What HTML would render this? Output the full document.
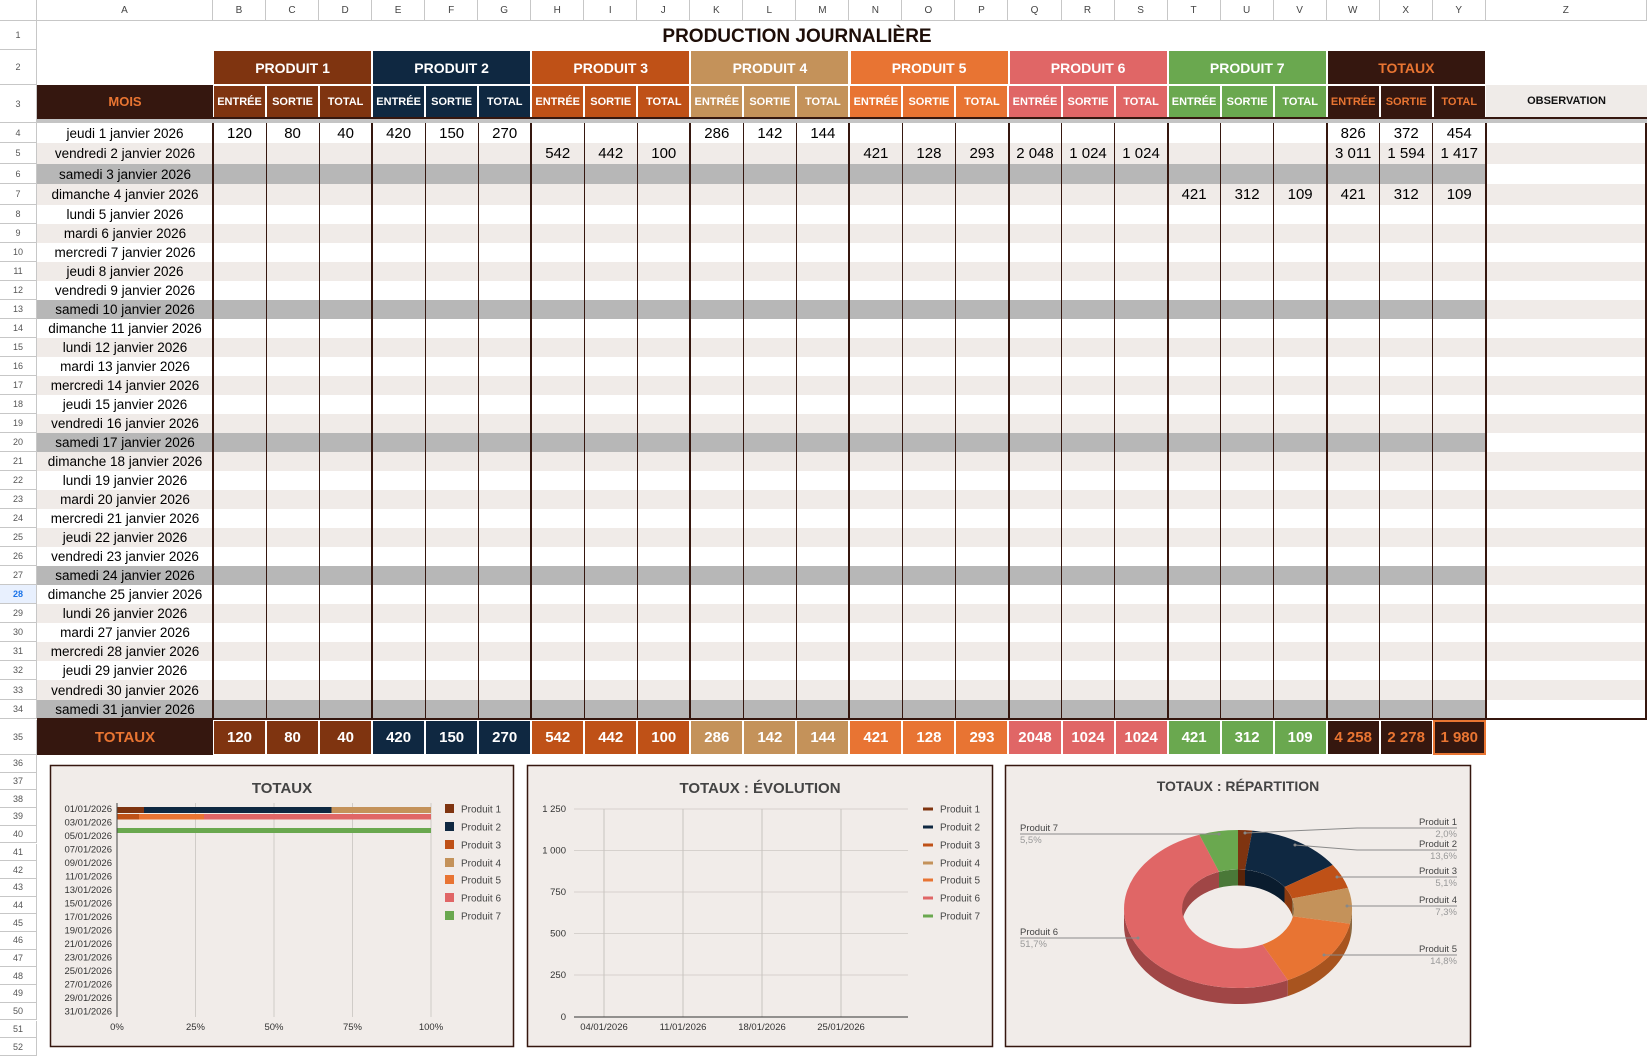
<!DOCTYPE html>
<html><head><meta charset="utf-8">
<style>
*{margin:0;padding:0;box-sizing:border-box}
body{width:1652px;height:1055px;background:#fff;position:relative;overflow:hidden;font-family:"Liberation Sans",Arial,sans-serif;color:#000}
.ab{position:absolute}
.ch{position:absolute;top:0;height:21px;border-right:1px solid #c7c7c7;border-bottom:1px solid #c7c7c7;font-size:10px;color:#444;text-align:center;line-height:21px;background:#fff}
.row{position:absolute;left:0;width:1647px;display:flex}
.row>.n{width:37px;flex:none;border-right:1px solid #c7c7c7;border-bottom:1px solid #c7c7c7;font-size:9px;color:#555;text-align:center;display:flex;align-items:center;justify-content:center;background:#fff}
.row>.a{width:176px;flex:none;text-align:center;font-size:13.5px;display:flex;align-items:center;justify-content:center}
.row>.c{width:1273px;flex:none;display:flex}
.row>.c span{width:53.04px;flex:none;text-align:center;font-size:15px;display:flex;align-items:center;justify-content:center}
.row>.z{width:161px;flex:none}
.w>.a,.w>.c{background:#fff}
.l>.a,.l>.c{background:#f0ebe8}
.g>.a,.g>.c{background:#b7b7b7}
.zl{background:#f0ebe8}
.v{position:absolute;top:123px;height:596px;width:1px;background:#35170f}
.vt{width:2px}
.grp{position:absolute;top:50px;height:35px;display:flex;align-items:center;justify-content:center;color:#fff;font-weight:bold;font-size:14px;border:1px solid #fff}
.hr{position:absolute;left:213px;display:flex}
.hr div{width:53.04px;flex:none;border:1px solid #fff;display:flex;align-items:center;justify-content:center;color:#fff;font-weight:bold}
.p1{background:#7f3410}.p2{background:#0f2841}.p3{background:#bf5117}.p4{background:#c4925a}.p5{background:#e87433}.p6{background:#e06666}.p7{background:#6aa84f}.pt{background:#35170f;color:#e97532 !important}
.rn{position:absolute;left:0;width:37px;border-right:1px solid #c7c7c7;border-bottom:1px solid #c7c7c7;font-size:9px;color:#555;text-align:center;display:flex;align-items:center;justify-content:center}
</style></head><body>

<div class="ch" style="left:0;width:37px"></div>
<div class="ch" style="left:37px;width:176px">A</div>
<div class="ab" style="left:213px;top:0;display:flex">
<div class="ch" style="position:static;width:53.04px">B</div><div class="ch" style="position:static;width:53.04px">C</div><div class="ch" style="position:static;width:53.04px">D</div><div class="ch" style="position:static;width:53.04px">E</div><div class="ch" style="position:static;width:53.04px">F</div><div class="ch" style="position:static;width:53.04px">G</div><div class="ch" style="position:static;width:53.04px">H</div><div class="ch" style="position:static;width:53.04px">I</div><div class="ch" style="position:static;width:53.04px">J</div><div class="ch" style="position:static;width:53.04px">K</div><div class="ch" style="position:static;width:53.04px">L</div><div class="ch" style="position:static;width:53.04px">M</div><div class="ch" style="position:static;width:53.04px">N</div><div class="ch" style="position:static;width:53.04px">O</div><div class="ch" style="position:static;width:53.04px">P</div><div class="ch" style="position:static;width:53.04px">Q</div><div class="ch" style="position:static;width:53.04px">R</div><div class="ch" style="position:static;width:53.04px">S</div><div class="ch" style="position:static;width:53.04px">T</div><div class="ch" style="position:static;width:53.04px">U</div><div class="ch" style="position:static;width:53.04px">V</div><div class="ch" style="position:static;width:53.04px">W</div><div class="ch" style="position:static;width:53.04px">X</div><div class="ch" style="position:static;width:53.04px">Y</div><div class="ch" style="position:static;width:161px">Z</div>
</div>

<div class="rn" style="top:21px;height:29px">1</div>
<div class="rn" style="top:50px;height:35px">2</div>
<div class="rn" style="top:85px;height:38px">3</div>

<div class="ab" style="left:37px;top:22px;width:1610px;height:29px;font-size:19px;font-weight:bold;line-height:29px;color:#1e0e08">
<span style="position:absolute;left:760px;transform:translateX(-50%);white-space:nowrap">PRODUCTION JOURNALIÈRE</span></div>

<div class="grp p1" style="left:213px;width:159.1px">PRODUIT 1</div>
<div class="grp p2" style="left:372.1px;width:159.1px">PRODUIT 2</div>
<div class="grp p3" style="left:531.2px;width:159.1px">PRODUIT 3</div>
<div class="grp p4" style="left:690.4px;width:159.1px">PRODUIT 4</div>
<div class="grp p5" style="left:849.5px;width:159.1px">PRODUIT 5</div>
<div class="grp p6" style="left:1008.6px;width:159.1px">PRODUIT 6</div>
<div class="grp p7" style="left:1167.7px;width:159.1px">PRODUIT 7</div>
<div class="grp pt" style="left:1326.8px;width:159.1px">TOTAUX</div>

<div class="ab pt" style="left:37px;top:85px;width:176px;height:33px;display:flex;align-items:center;justify-content:center;font-weight:bold;font-size:13px">MOIS</div>
<div class="hr" style="top:85px;height:33px;font-size:11px">
<div class="p1">ENTRÉE</div><div class="p1">SORTIE</div><div class="p1">TOTAL</div>
<div class="p2">ENTRÉE</div><div class="p2">SORTIE</div><div class="p2">TOTAL</div>
<div class="p3">ENTRÉE</div><div class="p3">SORTIE</div><div class="p3">TOTAL</div>
<div class="p4">ENTRÉE</div><div class="p4">SORTIE</div><div class="p4">TOTAL</div>
<div class="p5">ENTRÉE</div><div class="p5">SORTIE</div><div class="p5">TOTAL</div>
<div class="p6">ENTRÉE</div><div class="p6">SORTIE</div><div class="p6">TOTAL</div>
<div class="p7">ENTRÉE</div><div class="p7">SORTIE</div><div class="p7">TOTAL</div>
<div class="pt">ENTRÉE</div><div class="pt">SORTIE</div><div class="pt">TOTAL</div>
</div>
<div class="ab" style="left:1486px;top:85px;width:161px;height:32px;background:#efebe8;display:flex;align-items:center;justify-content:center;font-weight:bold;font-size:11px;color:#111">OBSERVATION</div>
<div class="ab" style="left:37px;top:117px;width:1610px;height:2px;background:#35170f"></div>
<div class="ab" style="left:37px;top:119px;width:1610px;height:4px;background:#c4c4c4"></div>

<div class="row w" style="top:123px;height:20px"><div class="n">4</div><div class="a">jeudi 1 janvier 2026</div><div class="c"><span>120</span><span>80</span><span>40</span><span>420</span><span>150</span><span>270</span><span></span><span></span><span></span><span>286</span><span>142</span><span>144</span><span></span><span></span><span></span><span></span><span></span><span></span><span></span><span></span><span></span><span>826</span><span>372</span><span>454</span></div><div class="z"></div></div>
<div class="row l" style="top:143px;height:21px"><div class="n">5</div><div class="a">vendredi 2 janvier 2026</div><div class="c"><span></span><span></span><span></span><span></span><span></span><span></span><span>542</span><span>442</span><span>100</span><span></span><span></span><span></span><span>421</span><span>128</span><span>293</span><span>2 048</span><span>1 024</span><span>1 024</span><span></span><span></span><span></span><span>3 011</span><span>1 594</span><span>1 417</span></div><div class="z zl"></div></div>
<div class="row g" style="top:164px;height:20px"><div class="n">6</div><div class="a">samedi 3 janvier 2026</div><div class="c"></div><div class="z"></div></div>
<div class="row l" style="top:184px;height:21px"><div class="n">7</div><div class="a">dimanche 4 janvier 2026</div><div class="c"><span></span><span></span><span></span><span></span><span></span><span></span><span></span><span></span><span></span><span></span><span></span><span></span><span></span><span></span><span></span><span></span><span></span><span></span><span>421</span><span>312</span><span>109</span><span>421</span><span>312</span><span>109</span></div><div class="z zl"></div></div>
<div class="row w" style="top:205px;height:19px"><div class="n">8</div><div class="a">lundi 5 janvier 2026</div><div class="c"></div><div class="z"></div></div>
<div class="row l" style="top:224px;height:19px"><div class="n">9</div><div class="a">mardi 6 janvier 2026</div><div class="c"></div><div class="z zl"></div></div>
<div class="row w" style="top:243px;height:19px"><div class="n">10</div><div class="a">mercredi 7 janvier 2026</div><div class="c"></div><div class="z"></div></div>
<div class="row l" style="top:262px;height:19px"><div class="n">11</div><div class="a">jeudi 8 janvier 2026</div><div class="c"></div><div class="z zl"></div></div>
<div class="row w" style="top:281px;height:19px"><div class="n">12</div><div class="a">vendredi 9 janvier 2026</div><div class="c"></div><div class="z"></div></div>
<div class="row g" style="top:300px;height:19px"><div class="n">13</div><div class="a">samedi 10 janvier 2026</div><div class="c"></div><div class="z zl"></div></div>
<div class="row w" style="top:319px;height:19px"><div class="n">14</div><div class="a">dimanche 11 janvier 2026</div><div class="c"></div><div class="z"></div></div>
<div class="row l" style="top:338px;height:19px"><div class="n">15</div><div class="a">lundi 12 janvier 2026</div><div class="c"></div><div class="z zl"></div></div>
<div class="row w" style="top:357px;height:19px"><div class="n">16</div><div class="a">mardi 13 janvier 2026</div><div class="c"></div><div class="z"></div></div>
<div class="row l" style="top:376px;height:19px"><div class="n">17</div><div class="a">mercredi 14 janvier 2026</div><div class="c"></div><div class="z zl"></div></div>
<div class="row w" style="top:395px;height:19px"><div class="n">18</div><div class="a">jeudi 15 janvier 2026</div><div class="c"></div><div class="z"></div></div>
<div class="row l" style="top:414px;height:19px"><div class="n">19</div><div class="a">vendredi 16 janvier 2026</div><div class="c"></div><div class="z zl"></div></div>
<div class="row g" style="top:433px;height:19px"><div class="n">20</div><div class="a">samedi 17 janvier 2026</div><div class="c"></div><div class="z"></div></div>
<div class="row l" style="top:452px;height:19px"><div class="n">21</div><div class="a">dimanche 18 janvier 2026</div><div class="c"></div><div class="z zl"></div></div>
<div class="row w" style="top:471px;height:19px"><div class="n">22</div><div class="a">lundi 19 janvier 2026</div><div class="c"></div><div class="z"></div></div>
<div class="row l" style="top:490px;height:19px"><div class="n">23</div><div class="a">mardi 20 janvier 2026</div><div class="c"></div><div class="z zl"></div></div>
<div class="row w" style="top:509px;height:19px"><div class="n">24</div><div class="a">mercredi 21 janvier 2026</div><div class="c"></div><div class="z"></div></div>
<div class="row l" style="top:528px;height:19px"><div class="n">25</div><div class="a">jeudi 22 janvier 2026</div><div class="c"></div><div class="z zl"></div></div>
<div class="row w" style="top:547px;height:19px"><div class="n">26</div><div class="a">vendredi 23 janvier 2026</div><div class="c"></div><div class="z"></div></div>
<div class="row g" style="top:566px;height:19px"><div class="n">27</div><div class="a">samedi 24 janvier 2026</div><div class="c"></div><div class="z zl"></div></div>
<div class="row w" style="top:585px;height:19px"><div class="n" style="color:#1a73e8;font-weight:bold;background:#e8f0fe">28</div><div class="a">dimanche 25 janvier 2026</div><div class="c"></div><div class="z"></div></div>
<div class="row l" style="top:604px;height:19px"><div class="n">29</div><div class="a">lundi 26 janvier 2026</div><div class="c"></div><div class="z zl"></div></div>
<div class="row w" style="top:623px;height:19px"><div class="n">30</div><div class="a">mardi 27 janvier 2026</div><div class="c"></div><div class="z"></div></div>
<div class="row l" style="top:642px;height:19px"><div class="n">31</div><div class="a">mercredi 28 janvier 2026</div><div class="c"></div><div class="z zl"></div></div>
<div class="row w" style="top:661px;height:19px"><div class="n">32</div><div class="a">jeudi 29 janvier 2026</div><div class="c"></div><div class="z"></div></div>
<div class="row l" style="top:680px;height:20px"><div class="n">33</div><div class="a">vendredi 30 janvier 2026</div><div class="c"></div><div class="z zl"></div></div>
<div class="row g" style="top:700px;height:19px"><div class="n">34</div><div class="a">samedi 31 janvier 2026</div><div class="c"></div><div class="z"></div></div>

<div class="v vt" style="left:212px"></div><div class="v" style="left:266px"></div><div class="v" style="left:319px"></div>
<div class="v vt" style="left:371px"></div><div class="v" style="left:425px"></div><div class="v" style="left:478px"></div>
<div class="v vt" style="left:530px"></div><div class="v" style="left:584px"></div><div class="v" style="left:637px"></div>
<div class="v vt" style="left:689px"></div><div class="v" style="left:743px"></div><div class="v" style="left:796px"></div>
<div class="v vt" style="left:848px"></div><div class="v" style="left:902px"></div><div class="v" style="left:955px"></div>
<div class="v vt" style="left:1008px"></div><div class="v" style="left:1061px"></div><div class="v" style="left:1114px"></div>
<div class="v vt" style="left:1167px"></div><div class="v" style="left:1220px"></div><div class="v" style="left:1273px"></div>
<div class="v vt" style="left:1326px"></div><div class="v" style="left:1379px"></div><div class="v" style="left:1432px"></div>
<div class="v vt" style="left:1485px"></div><div class="v vt" style="left:1645px"></div>
<div class="ab" style="left:37px;top:718px;width:1610px;height:2px;background:#35170f"></div>

<div class="rn" style="top:720px;height:35px">35</div>
<div class="ab pt" style="left:37px;top:720px;width:176px;height:35px;display:flex;align-items:center;justify-content:center;font-weight:bold;font-size:15px">TOTAUX</div>
<div class="hr" style="top:720px;height:35px;font-size:15px">
<div class="p1">120</div><div class="p1">80</div><div class="p1">40</div>
<div class="p2">420</div><div class="p2">150</div><div class="p2">270</div>
<div class="p3">542</div><div class="p3">442</div><div class="p3">100</div>
<div class="p4">286</div><div class="p4">142</div><div class="p4">144</div>
<div class="p5">421</div><div class="p5">128</div><div class="p5">293</div>
<div class="p6">2048</div><div class="p6">1024</div><div class="p6">1024</div>
<div class="p7">421</div><div class="p7">312</div><div class="p7">109</div>
<div class="pt">4 258</div><div class="pt">2 278</div><div class="pt" style="border:2px solid #e97532">1 980</div>
</div>

<div class="rn" style="top:755px;height:17.7px">36</div>
<div class="rn" style="top:772.7px;height:17.7px">37</div>
<div class="rn" style="top:790.4px;height:17.7px">38</div>
<div class="rn" style="top:808.1px;height:17.7px">39</div>
<div class="rn" style="top:825.8px;height:17.7px">40</div>
<div class="rn" style="top:843.5px;height:17.7px">41</div>
<div class="rn" style="top:861.2px;height:17.7px">42</div>
<div class="rn" style="top:878.9px;height:17.7px">43</div>
<div class="rn" style="top:896.6px;height:17.7px">44</div>
<div class="rn" style="top:914.3px;height:17.7px">45</div>
<div class="rn" style="top:932px;height:17.7px">46</div>
<div class="rn" style="top:949.7px;height:17.7px">47</div>
<div class="rn" style="top:967.4px;height:17.7px">48</div>
<div class="rn" style="top:985.1px;height:17.7px">49</div>
<div class="rn" style="top:1002.8px;height:17.7px">50</div>
<div class="rn" style="top:1020.5px;height:17.7px">51</div>
<div class="rn" style="top:1038.2px;height:17.7px">52</div>

<svg class="ab" style="left:0;top:0" width="1652" height="1055" viewBox="0 0 1652 1055" font-family="Liberation Sans, Arial, sans-serif">
<rect x="50.5" y="765.5" width="463" height="281" fill="#f1ece9" stroke="#35170f" stroke-width="1.5"/>
<text x="282" y="793" text-anchor="middle" font-size="15" font-weight="bold" fill="#444">TOTAUX</text>
<g stroke="#d0ccc8" stroke-width="1"><line x1="195.5" y1="803" x2="195.5" y2="1017"/><line x1="274" y1="803" x2="274" y2="1017"/><line x1="352.5" y1="803" x2="352.5" y2="1017"/><line x1="431" y1="803" x2="431" y2="1017"/></g>
<rect x="117" y="807" width="27" height="6" fill="#7f3410"/><rect x="144" y="807" width="187.5" height="6" fill="#0f2841"/><rect x="331.5" y="807" width="99.5" height="6" fill="#c4925a"/>
<rect x="117" y="814" width="22" height="5.5" fill="#bf5117"/><rect x="139" y="814" width="65" height="5.5" fill="#e87433"/><rect x="204" y="814" width="227" height="5.5" fill="#e06666"/>
<rect x="117" y="828" width="314" height="5" fill="#6aa84f"/>
<line x1="117" y1="803" x2="117" y2="1017" stroke="#444" stroke-width="1"/>
<g font-size="9.5" fill="#333" text-anchor="end">
<text x="112" y="812">01/01/2026</text><text x="112" y="825.5">03/01/2026</text><text x="112" y="839">05/01/2026</text><text x="112" y="852.5">07/01/2026</text><text x="112" y="866">09/01/2026</text><text x="112" y="879.5">11/01/2026</text><text x="112" y="893">13/01/2026</text><text x="112" y="906.5">15/01/2026</text><text x="112" y="920">17/01/2026</text><text x="112" y="933.5">19/01/2026</text><text x="112" y="947">21/01/2026</text><text x="112" y="960.5">23/01/2026</text><text x="112" y="974">25/01/2026</text><text x="112" y="987.5">27/01/2026</text><text x="112" y="1001">29/01/2026</text><text x="112" y="1014.5">31/01/2026</text>
</g>
<g font-size="9.5" fill="#333" text-anchor="middle"><text x="117" y="1030">0%</text><text x="195.5" y="1030">25%</text><text x="274" y="1030">50%</text><text x="352.5" y="1030">75%</text><text x="431" y="1030">100%</text></g>
<g font-size="10" fill="#444">
<rect x="445" y="804" width="9" height="9" fill="#7f3410"/><text x="461" y="812.5">Produit 1</text>
<rect x="445" y="822" width="9" height="9" fill="#0f2841"/><text x="461" y="830.5">Produit 2</text>
<rect x="445" y="840" width="9" height="9" fill="#bf5117"/><text x="461" y="848.5">Produit 3</text>
<rect x="445" y="858" width="9" height="9" fill="#c4925a"/><text x="461" y="866.5">Produit 4</text>
<rect x="445" y="875" width="9" height="9" fill="#e87433"/><text x="461" y="883.5">Produit 5</text>
<rect x="445" y="893" width="9" height="9" fill="#e06666"/><text x="461" y="901.5">Produit 6</text>
<rect x="445" y="911" width="9" height="9" fill="#6aa84f"/><text x="461" y="919.5">Produit 7</text>
</g>

<rect x="527.5" y="765.5" width="465" height="281" fill="#f1ece9" stroke="#35170f" stroke-width="1.5"/>
<text x="760" y="793" text-anchor="middle" font-size="15" font-weight="bold" fill="#444">TOTAUX : ÉVOLUTION</text>
<g stroke="#d6d1cd" stroke-width="1"><line x1="574" y1="809" x2="908" y2="809"/><line x1="574" y1="850.5" x2="908" y2="850.5"/><line x1="574" y1="892" x2="908" y2="892"/><line x1="574" y1="933.5" x2="908" y2="933.5"/><line x1="574" y1="975" x2="908" y2="975"/></g>
<g stroke="#c8c3bf" stroke-width="1"><line x1="604" y1="809" x2="604" y2="1017"/><line x1="683" y1="809" x2="683" y2="1017"/><line x1="762" y1="809" x2="762" y2="1017"/><line x1="841" y1="809" x2="841" y2="1017"/></g>
<line x1="574" y1="1017" x2="908" y2="1017" stroke="#333" stroke-width="1"/>
<g font-size="9.5" fill="#333" text-anchor="end"><text x="566" y="812">1 250</text><text x="566" y="853.5">1 000</text><text x="566" y="895">750</text><text x="566" y="936.5">500</text><text x="566" y="978">250</text><text x="566" y="1020">0</text></g>
<g font-size="9.5" fill="#333" text-anchor="middle"><text x="604" y="1030">04/01/2026</text><text x="683" y="1030">11/01/2026</text><text x="762" y="1030">18/01/2026</text><text x="841" y="1030">25/01/2026</text></g>
<g font-size="10" fill="#444" stroke-width="3">
<line x1="923" y1="809" x2="933" y2="809" stroke="#7f3410"/><text x="940" y="812.5" stroke="none">Produit 1</text>
<line x1="923" y1="827" x2="933" y2="827" stroke="#0f2841"/><text x="940" y="830.5" stroke="none">Produit 2</text>
<line x1="923" y1="845" x2="933" y2="845" stroke="#bf5117"/><text x="940" y="848.5" stroke="none">Produit 3</text>
<line x1="923" y1="863" x2="933" y2="863" stroke="#c4925a"/><text x="940" y="866.5" stroke="none">Produit 4</text>
<line x1="923" y1="880" x2="933" y2="880" stroke="#e87433"/><text x="940" y="883.5" stroke="none">Produit 5</text>
<line x1="923" y1="898" x2="933" y2="898" stroke="#e06666"/><text x="940" y="901.5" stroke="none">Produit 6</text>
<line x1="923" y1="916" x2="933" y2="916" stroke="#6aa84f"/><text x="940" y="919.5" stroke="none">Produit 7</text>
</g>

<rect x="1005.5" y="765.5" width="465" height="281" fill="#f1ece9" stroke="#35170f" stroke-width="1.5"/>
<text x="1238" y="791" text-anchor="middle" font-size="14" font-weight="bold" fill="#444">TOTAUX : RÉPARTITION</text>
<defs><clipPath id="hole"><ellipse cx="1238" cy="909" rx="56" ry="39.5"/></clipPath></defs>
<path d="M1352,909 A114,79 0 0 1 1350,923.8 L1350,939.8 A114,79 0 0 0 1352,925 Z" fill="#8c6840"/>
<path d="M1350,923.8 A114,79 0 0 1 1287.8,980.1 L1287.8,996.1 A114,79 0 0 0 1350,939.8 Z" fill="#a8541f"/>
<path d="M1287.8,980.1 A114,79 0 0 1 1124,909 L1124,925 A114,79 0 0 0 1287.8,996.1 Z" fill="#a04646"/>
<path d="M1238,830 A114,79 0 0 1 1252.3,830.6 L1245,869.8 A56,39.5 0 0 0 1238,869.5 Z" fill="#7f3410"/>
<path d="M1252.3,830.6 A114,79 0 0 1 1332.7,865 L1284.5,887 A56,39.5 0 0 0 1245,869.8 Z" fill="#0f2841"/>
<path d="M1332.7,865 A114,79 0 0 1 1347.9,887.9 L1292,898.5 A56,39.5 0 0 0 1284.5,887 Z" fill="#bf5117"/>
<path d="M1347.9,887.9 A114,79 0 0 1 1350,923.8 L1293,916.4 A56,39.5 0 0 0 1292,898.5 Z" fill="#c4925a"/>
<path d="M1350,923.8 A114,79 0 0 1 1287.8,980.1 L1262.5,944.5 A56,39.5 0 0 0 1293,916.4 Z" fill="#e87433"/>
<path d="M1287.8,980.1 A114,79 0 1 1 1199.4,834.7 L1219,871.8 A56,39.5 0 1 0 1262.5,944.5 Z" fill="#e06666"/>
<path d="M1199.4,834.7 A114,79 0 0 1 1238,830 L1238,869.5 A56,39.5 0 0 0 1219,871.8 Z" fill="#6aa84f"/>
<g clip-path="url(#hole)">
<path d="M1182,909 A56,39.5 0 0 1 1219,871.8 L1219,887.8 A56,39.5 0 0 0 1182,925 Z" fill="#a04646"/>
<path d="M1219,871.8 A56,39.5 0 0 1 1238,869.5 L1238,885.5 A56,39.5 0 0 0 1219,887.8 Z" fill="#4a7838"/>
<path d="M1238,869.5 A56,39.5 0 0 1 1245,869.8 L1245,885.8 A56,39.5 0 0 0 1238,885.5 Z" fill="#5a2409"/>
<path d="M1245,869.8 A56,39.5 0 0 1 1284.5,887 L1284.5,903 A56,39.5 0 0 0 1245,885.8 Z" fill="#0a1c2e"/>
<path d="M1284.5,887 A56,39.5 0 0 1 1292,898.5 L1292,914.5 A56,39.5 0 0 0 1284.5,903 Z" fill="#8a3a10"/>
<path d="M1292,898.5 A56,39.5 0 0 1 1294,909 L1294,925 A56,39.5 0 0 0 1292,914.5 Z" fill="#8c6840"/>
</g>
<g stroke="#8a8a8a" stroke-width="1" fill="none">
<polyline points="1457,828 1357,828 1245,833"/>
<polyline points="1457,850 1357,850 1295,845"/>
<polyline points="1457,877 1337,877"/>
<polyline points="1457,906 1347,906"/>
<polyline points="1457,955 1324,955"/>
<polyline points="1020,834 1219,834"/>
<polyline points="1020,938 1138,938"/>
</g>
<g fill="#888"><circle cx="1245" cy="833" r="1.5"/><circle cx="1295" cy="845" r="1.5"/><circle cx="1337" cy="877" r="1.5"/><circle cx="1347" cy="906" r="1.5"/><circle cx="1324" cy="955" r="1.5"/><circle cx="1219" cy="834" r="1.5"/><circle cx="1138" cy="938" r="1.5"/></g>
<g font-size="9.5">
<text x="1020" y="831" fill="#444">Produit 7</text><text x="1020" y="843" fill="#999">5,5%</text>
<text x="1020" y="935" fill="#444">Produit 6</text><text x="1020" y="947" fill="#999">51,7%</text>
<g text-anchor="end">
<text x="1457" y="825" fill="#444">Produit 1</text><text x="1457" y="837" fill="#999">2,0%</text>
<text x="1457" y="847" fill="#444">Produit 2</text><text x="1457" y="859" fill="#999">13,6%</text>
<text x="1457" y="874" fill="#444">Produit 3</text><text x="1457" y="886" fill="#999">5,1%</text>
<text x="1457" y="903" fill="#444">Produit 4</text><text x="1457" y="915" fill="#999">7,3%</text>
<text x="1457" y="952" fill="#444">Produit 5</text><text x="1457" y="964" fill="#999">14,8%</text>
</g></g>
</svg>
</body></html>
